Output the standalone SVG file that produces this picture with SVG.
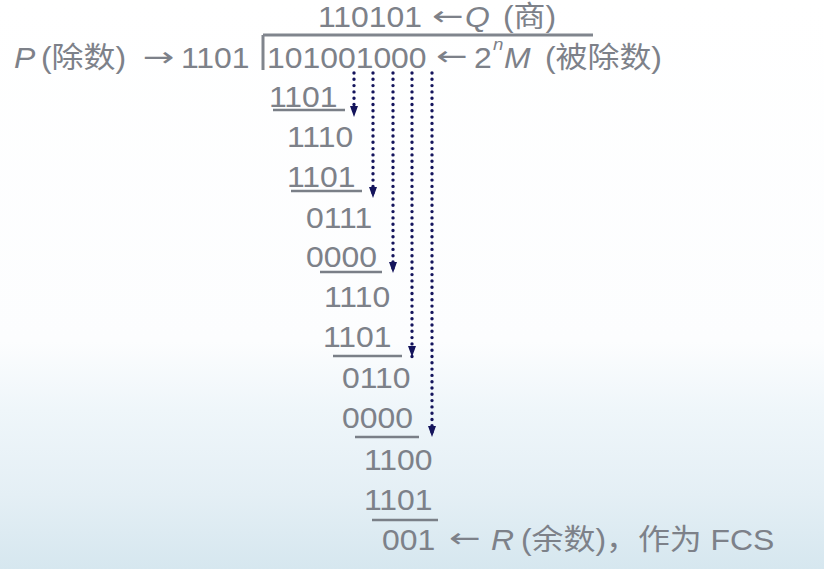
<svg xmlns="http://www.w3.org/2000/svg" width="824" height="569" viewBox="0 0 824 569">
<defs>
<linearGradient id="bg" x1="0" y1="0" x2="0" y2="1">
<stop offset="0" stop-color="#ffffff"/>
<stop offset="0.6" stop-color="#fcfdfe"/>
<stop offset="0.72" stop-color="#eff6fa"/>
<stop offset="0.87" stop-color="#e4eff5"/>
<stop offset="1" stop-color="#d6e7ef"/>
</linearGradient>
<marker id="ah" viewBox="0 0 11 8" refX="11" refY="4" markerWidth="11" markerHeight="8" markerUnits="userSpaceOnUse" orient="auto">
<path d="M0,0 L11,4 L0,8 Z" fill="#14145c"/>
</marker>
<style>
.t{font-family:"Liberation Sans","Noto Sans CJK SC",sans-serif;font-size:29px;fill:#7d8189}
.i{font-style:italic}
.sup{font-size:17px}
.ar{font-family:"DejaVu Sans",sans-serif;font-size:27px;fill:#7d8189}
.bar{stroke:#80858d;stroke-width:3;fill:none}
.ul{stroke:#7a7f87;stroke-width:2.5;fill:none}
.dot{stroke:#14145c;stroke-width:3.4;stroke-linecap:round;stroke-dasharray:0 6.3;fill:none}
</style>
</defs>
<rect width="824" height="569" fill="url(#bg)"/>

<g id="division-frame">
<path class="bar" d="M263,35 H593"/>
<path class="bar" d="M263,35 V70"/>
</g>

<g id="quotient">
<text class="t" transform="translate(318 27) scale(1.1 1)">110101</text>
<text class="ar" transform="translate(432 25) scale(1.4 1)">←</text>
<text class="t i" transform="translate(465 27) scale(1.1 1)">Q</text>
<text class="t" transform="translate(503 27) scale(1.1 1)">(商)</text>
</g>

<g id="divisor">
<text class="t i" transform="translate(14 68) scale(1.1 1)">P</text>
<text class="t" transform="translate(41 68) scale(1.1 1)">(除数)</text>
<text class="ar" transform="translate(143 66) scale(1.4 1)">→</text>
<text class="t" transform="translate(181 68) scale(1.1 1)">1101</text>
</g>

<g id="dividend">
<text class="t" transform="translate(267 68) scale(1.1 1)">101001000</text>
<text class="ar" transform="translate(436 65) scale(1.4 1)">←</text>
<text class="t" transform="translate(474 68) scale(1.1 1)">2</text>
<text class="t i sup" transform="translate(493 50) scale(1.1 1)">n</text>
<text class="t i" transform="translate(504 68) scale(1.1 1)">M</text>
<text class="t" transform="translate(545 68) scale(1.1 1)">(被除数)</text>
</g>

<g id="steps">
<text class="t" transform="translate(269 107) scale(1.1 1)">1101</text>
<path class="ul" d="M273,110 H345"/>
<text class="t" transform="translate(287 147) scale(1.1 1)">1110</text>
<text class="t" transform="translate(287 187) scale(1.1 1)">1101</text>
<path class="ul" d="M291,191 H362"/>
<text class="t" transform="translate(306 228) scale(1.1 1)">0111</text>
<text class="t" transform="translate(306 267) scale(1.1 1)">0000</text>
<path class="ul" d="M320,272 H382"/>
<text class="t" transform="translate(324 307) scale(1.1 1)">1110</text>
<text class="t" transform="translate(323 347) scale(1.1 1)">1101</text>
<path class="ul" d="M333,356 H402"/>
<text class="t" transform="translate(342 388) scale(1.1 1)">0110</text>
<text class="t" transform="translate(342 428) scale(1.1 1)">0000</text>
<path class="ul" d="M355,437 H419"/>
<text class="t" transform="translate(364 470) scale(1.1 1)">1100</text>
<text class="t" transform="translate(364 510) scale(1.1 1)">1101</text>
<path class="ul" d="M372,520 H438"/>
</g>

<g id="remainder">
<text class="t" transform="translate(382 550) scale(1.1 1)">001</text>
<text class="ar" transform="translate(449 547) scale(1.4 1)">←</text>
<text class="t i" transform="translate(491 550) scale(1.1 1)">R</text>
<text class="t" transform="translate(521 550) scale(1.1 1)">(余数)，作为 FCS</text>
</g>

<g id="connectors">
<path class="dot" d="M354,73 V117" marker-end="url(#ah)"/>
<path class="dot" d="M373,73 V198" marker-end="url(#ah)"/>
<path class="dot" d="M393,73 V273" marker-end="url(#ah)"/>
<path class="dot" d="M412,73 V357" marker-end="url(#ah)"/>
<path class="dot" d="M432,73 V437" marker-end="url(#ah)"/>
</g>
</svg>
